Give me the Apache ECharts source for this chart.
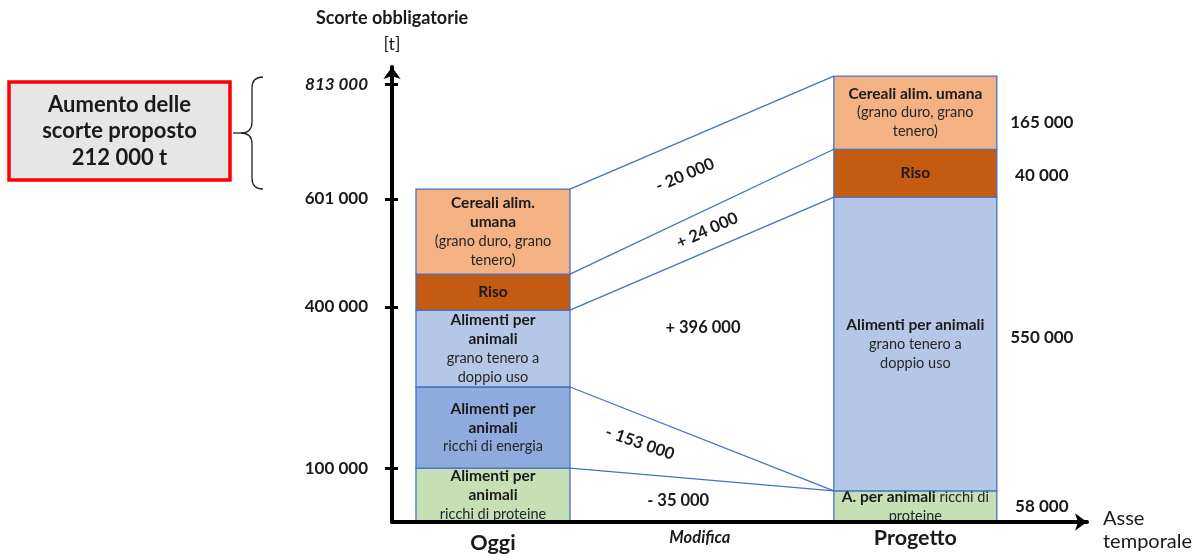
<!DOCTYPE html>
<html><head><meta charset="utf-8">
<script src="https://cdn.jsdelivr.net/npm/echarts@6.0.0/dist/echarts.min.js"></script>
<style>html,body{margin:0;padding:0;background:#fff}#chart{width:1200px;height:556px}</style>
</head><body><div id="chart"></div>
<script>
// ---- data ----
const categories = ['Oggi', 'Modifica', 'Progetto'];
const segments = ['Alimenti per animali ricchi di proteine', 'Alimenti per animali ricchi di energia',
  'Alimenti per animali grano tenero a doppio uso', 'Riso', 'Cereali alim. umana'];
const oggiValues = [100000, 151000, 143000, 67000, 158000];
const progettoValues = [58000, 0, 546000, 89000, 136000];
const progettoLabels = ['58 000', '', '550 000', '40 000', '165 000'];
const changeLabels = ['- 35 000', '- 153 000', '+ 396 000', '+ 24 000', '- 20 000'];
const yTicks = [100000, 400000, 601000, 813000];
const oggiTexts = [
  '{b|Alimenti per}\n{b|animali}\n{n|ricchi di proteine}',
  '{b|Alimenti per}\n{b|animali}\n{n|ricchi di energia}',
  '{b|Alimenti per}\n{b|animali}\n{n|grano tenero a}\n{n|doppio uso}',
  '{b|Riso}',
  '{b|Cereali alim.}\n{b|umana}\n{n|(grano duro, grano}\n{n|tenero)}'
];
const progettoTexts = [
  '{b|A. per animali}{n| ricchi di}\n{n|proteine}',
  '',
  '{b|Alimenti per animali}\n{n|grano tenero a}\n{n|doppio uso}',
  '{b|Riso}',
  '{b|Cereali alim. umana}\n{n|(grano duro, grano}\n{n|tenero)}'
];
const summaryLines = ['Aumento delle', 'scorte proposto', '212 000 t'];
const yAxisTitle = ['Scorte obbligatorie', '[t]'];
const xAxisTitle = ['Asse', 'temporale'];

// ---- layout / style ----
const FONT = 'Lato, "Noto Sans", sans-serif';
const segColors = ['#C5E0B4', '#8FAADC', '#B4C7E7', '#C55A11', '#F4B183'];
const layout = {
  catX: [14.53, 44.3, 75.3],
  barWidth: [22.16, 0, 23.45],
  valueLabelGap: 45,
  valueLabelDy: [0, 0, -6, 2, 10],
  change: [ // t = horizontal fraction, v = vertical fraction in band, r = rotation (deg)
    {t: 0.41, v: 0.53, r: 0},
    {t: 0.265, v: 0.48, r: -19},
    {t: 0.504, v: 0.40, r: 0},
    {t: 0.52, v: 0.50, r: 24},
    {t: 0.436, v: 0.44, r: 23}
  ]
};

function cumulative(arr) { const c = [0]; arr.forEach(v => c.push(c[c.length - 1] + v)); return c; }
const cumO = cumulative(oggiValues);
const cumP = cumulative(progettoValues);
const fmt = v => String(v).replace(/\B(?=(\d{3})+(?!\d))/g, ' ');

const barData = [];
[[0, oggiValues, cumO], [2, progettoValues, cumP]].forEach(([cat, vals, cum]) => {
  vals.forEach((v, s) => { if (v > 0) barData.push([cat, s, cum[s], cum[s + 1]]); });
});

const segRich = {
  b: {fontFamily: FONT, fontWeight: 'bold', fontSize: 15.5, lineHeight: 19, fill: '#1a1a1a'},
  n: {fontFamily: FONT, fontWeight: 'normal', fontSize: 14.5, lineHeight: 19, fill: '#262626'}
};

function renderBar(params, api) {
  const cat = api.value(0), seg = api.value(1), lo = api.value(2), hi = api.value(3);
  const half = layout.barWidth[cat] / 2, xc = layout.catX[cat];
  const pLo = api.coord([xc - half, lo]), pHi = api.coord([xc + half, hi]);
  const x = pLo[0], y = pHi[1], w = pHi[0] - pLo[0], h = pLo[1] - pHi[1];
  const children = [
    {type: 'rect', shape: {x, y, width: w, height: h},
     style: {fill: segColors[seg], stroke: '#4472C4', lineWidth: 1.3}},
    {type: 'text', x: x + w / 2, y: y + h / 2,
     style: {text: (cat === 0 ? oggiTexts : progettoTexts)[seg], align: 'center', verticalAlign: 'middle',
             rich: segRich, fontFamily: FONT, fontSize: 14.5}}
  ];
  if (cat === 2 && progettoLabels[seg]) {
    children.push({type: 'text', x: x + w + layout.valueLabelGap, y: y + h / 2 + layout.valueLabelDy[seg],
      style: {text: progettoLabels[seg], align: 'center', verticalAlign: 'middle',
              fontFamily: FONT, fontWeight: 'bold', fontSize: 17, fill: '#1a1a1a'}});
  }
  return {type: 'group', children};
}

const xL = layout.catX[0] + layout.barWidth[0] / 2;
const xR = layout.catX[2] - layout.barWidth[2] / 2;
const connData = changeLabels.map((l, s) => [s, cumO[s + 1]]);
function renderConn(params, api) {
  const s = api.value(0);
  const tL = api.coord([xL, cumO[s + 1]]), tR = api.coord([xR, cumP[s + 1]]);
  const bL = api.coord([xL, cumO[s]]), bR = api.coord([xR, cumP[s]]);
  const c = layout.change[s];
  const px = tL[0] + (tR[0] - tL[0]) * c.t;
  const ty = tL[1] + (tR[1] - tL[1]) * c.t;
  const by = bL[1] + (bR[1] - bL[1]) * c.t;
  const py = ty + (by - ty) * c.v;
  return {type: 'group', children: [
    {type: 'line', shape: {x1: tL[0], y1: tL[1], x2: tR[0], y2: tR[1]},
     style: {stroke: '#4472C4', lineWidth: 1.3}},
    {type: 'text', x: px, y: py, rotation: c.r * Math.PI / 180,
     style: {text: changeLabels[s], align: 'center', verticalAlign: 'middle',
             fontFamily: FONT, fontWeight: 'bold', fontSize: 16.5, fill: '#1a1a1a'}}
  ]};
}

const chart = echarts.init(document.getElementById('chart'), null, {renderer: 'canvas'});
const option = {
  animation: false,
  textStyle: {fontFamily: FONT},
  grid: {left: 392, right: 113, top: 67, bottom: 34, containLabel: false, outerBoundsMode: 'none'},
  xAxis: {
    type: 'value', min: 0, max: 100, z: 10,
    axisLine: {show: true, symbol: ['none', 'arrow'], symbolSize: [13, 12],
               lineStyle: {color: '#000', width: 4}},
    axisTick: {show: false}, splitLine: {show: false},
    axisLabel: {
      customValues: layout.catX, margin: 5,
      formatter: v => {
        const i = layout.catX.findIndex(x => Math.abs(x - v) < 0.01);
        return i === 1 ? '{m|' + categories[i] + '}' : (i === 0 ? '{o|' : '{p|') + categories[i] + '}';
      },
      rich: {
        o: {fontFamily: FONT, fontWeight: 'bold', fontSize: 21.5, color: '#1a1a1a', padding: [5, 0, 0, 0]},
        p: {fontFamily: FONT, fontWeight: 'bold', fontSize: 21.5, color: '#1a1a1a'},
        m: {fontFamily: FONT, fontWeight: 'bold', fontStyle: 'italic', fontSize: 16.5, color: '#1a1a1a', padding: [2, 0, 0, 0]}
      }
    }
  },
  yAxis: [{
    type: 'value', min: 0, max: 846000, z: 10,
    axisLine: {show: true, symbol: ['none', 'arrow'], symbolSize: [13, 12],
               lineStyle: {color: '#000', width: 4}},
    axisTick: {show: true, customValues: yTicks, length: 7, lineStyle: {color: '#000', width: 3}},
    splitLine: {show: false},
    axisLabel: {
      customValues: yTicks, margin: 24,
      formatter: v => (v === yTicks[yTicks.length - 1] ? '{i|' : '{r|') + fmt(v) + '}',
      rich: {
        r: {fontFamily: FONT, fontWeight: 'bold', fontSize: 17, color: '#1a1a1a'},
        i: {fontFamily: FONT, fontWeight: 'bold', fontStyle: 'italic', fontSize: 17, color: '#1a1a1a'}
      }
    },
    name: '{a|' + yAxisTitle[0] + '}\n{b|' + yAxisTitle[1] + '}', nameLocation: 'end', nameGap: 10,
    nameTextStyle: {align: 'center', rich: {
      a: {fontFamily: FONT, fontWeight: 'bold', fontSize: 18, lineHeight: 26, color: '#1a1a1a'},
      b: {fontFamily: FONT, fontSize: 18, lineHeight: 26, color: '#1a1a1a'}
    }}
  }, {
    type: 'value', min: 0, max: 846000, z: 10, position: 'left', offset: 0,
    axisLine: {show: false}, axisLabel: {show: false}, splitLine: {show: false},
    axisTick: {show: true, inside: true, customValues: yTicks, length: 6, lineStyle: {color: '#000', width: 3}}
  }],
  series: [
    {type: 'custom', name: 'connections', silent: true, z: 1, data: connData,
     encode: {x: 0, y: 1}, renderItem: renderConn},
    {type: 'custom', name: 'bars', silent: true, z: 2, data: barData,
     encode: {x: 0, y: [2, 3]}, renderItem: renderBar}
  ],
  graphic: [
    {type: 'text', x: 1103, y: 530,
     style: {text: xAxisTitle.join('\n'), align: 'left', verticalAlign: 'middle',
             font: '20px ' + FONT, lineHeight: 23, fill: '#1a1a1a'}},
    {type: 'rect', shape: {x: 9, y: 82, width: 221, height: 98},
     style: {fill: '#E7E6E6', stroke: '#FF0000', lineWidth: 3.5}},
    {type: 'text', x: 119.5, y: 131,
     style: {text: summaryLines.join('\n'), align: 'center', verticalAlign: 'middle',
             font: 'bold 22px ' + FONT, lineHeight: 26.5, fill: '#1a1a1a'}},
    {type: 'bezierCurve', shape: {x1: 263, y1: 77, x2: 252, y2: 88, cpx1: 252, cpy1: 77}, style: {stroke: '#222', lineWidth: 1.3, fill: null}},
    {type: 'line', shape: {x1: 252, y1: 88, x2: 252, y2: 122}, style: {stroke: '#222', lineWidth: 1.3}},
    {type: 'bezierCurve', shape: {x1: 252, y1: 122, x2: 241, y2: 133, cpx1: 252, cpy1: 133}, style: {stroke: '#222', lineWidth: 1.3, fill: null}},
    {type: 'line', shape: {x1: 241, y1: 133, x2: 233, y2: 133}, style: {stroke: '#222', lineWidth: 1.3}},
    {type: 'bezierCurve', shape: {x1: 241, y1: 133, x2: 252, y2: 144, cpx1: 252, cpy1: 133}, style: {stroke: '#222', lineWidth: 1.3, fill: null}},
    {type: 'line', shape: {x1: 252, y1: 144, x2: 252, y2: 178}, style: {stroke: '#222', lineWidth: 1.3}},
    {type: 'bezierCurve', shape: {x1: 252, y1: 178, x2: 263, y2: 189, cpx1: 252, cpy1: 189}, style: {stroke: '#222', lineWidth: 1.3, fill: null}}
  ]
};
chart.setOption(option);
</script></body></html>
